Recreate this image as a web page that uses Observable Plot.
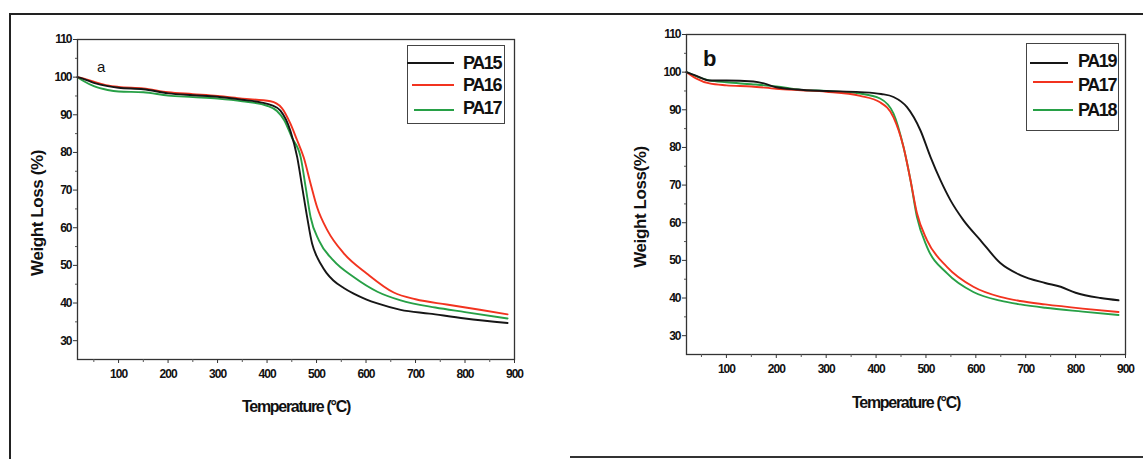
<!DOCTYPE html>
<html><head><meta charset="utf-8">
<script src="https://cdn.jsdelivr.net/npm/d3@7"></script>
<script src="https://cdn.jsdelivr.net/npm/@observablehq/plot@0.6"></script>
<style>
body{margin:0;background:#fff;}
#wrap{position:relative;width:1143px;height:459px;overflow:hidden;font-family:"Liberation Sans",Arial,sans-serif;color:#111;}
.abs{position:absolute;}
.ytitle{position:absolute;font-weight:bold;font-size:17px;white-space:nowrap;transform:translate(-50%,-50%) rotate(-90deg);letter-spacing:-0.4px;}
.xtitle{position:absolute;font-size:16px;font-weight:bold;white-space:nowrap;transform:translate(-50%,-50%);letter-spacing:-1.3px;}
.legend{position:absolute;border:1.5px solid #444;box-sizing:border-box;}
.lg-line{position:absolute;height:2px;}
.lg-text{position:absolute;font-weight:bold;font-size:18px;letter-spacing:-1.4px;line-height:18px;transform:translateY(-50%);}
</style></head>
<body><div id="wrap"></div>
<script>
// ---- Data ----
// Panel a
const tPA15a = [17, 30, 50, 78, 100, 150, 200, 250, 300, 350, 387, 410, 427, 447, 461, 471, 481, 491, 500, 508, 520, 534, 555, 575, 600, 623, 670, 728, 800, 886];
const wPA15a = [100, 99.5, 98.5, 97.6, 97.2, 96.8, 95.7, 95.2, 94.8, 94.0, 93.3, 92.5, 91.1, 85.8, 78.7, 70.8, 62.8, 55.8, 52.5, 50.5, 48.0, 46, 44, 42.5, 41, 39.9, 38.2, 37.2, 35.9, 34.7];
const tPA16a = [17, 30, 50, 78, 100, 150, 200, 250, 300, 350, 407, 430, 447, 460, 474, 488, 501, 522, 555, 602, 656, 700, 763, 830, 886];
const wPA16a = [100, 99.6, 98.8, 97.8, 97.4, 97.0, 96.0, 95.5, 95.0, 94.3, 93.6, 91.8, 87.7, 83.5, 78.7, 71.7, 65.5, 59.3, 53.2, 47.8, 42.8, 41.0, 39.6, 38.2, 37.0];
const tPA17a = [17, 30, 50, 78, 100, 150, 200, 250, 300, 350, 400, 420, 435, 450, 468, 478, 488, 505, 534, 575, 623, 670, 740, 800, 886];
const wPA17a = [100, 98.9, 97.6, 96.6, 96.2, 96.0, 95.1, 94.7, 94.3, 93.6, 92.4, 91, 88.5, 84, 78.7, 70.8, 62.8, 56.6, 51.3, 46.9, 43.0, 40.7, 38.8, 37.6, 35.9];
// Panel b
const tPA19b = [20, 40, 66, 100, 154, 175, 200, 241, 300, 368, 410, 435, 462, 489, 509, 529, 549, 575, 609, 649, 689, 739, 770, 800, 850, 886];
const wPA19b = [100, 99.0, 97.8, 97.8, 97.5, 97.0, 96.0, 95.4, 95.0, 94.7, 94.2, 93.4, 90.7, 84.5, 77.5, 71.3, 66, 60.7, 55.4, 49.3, 46.1, 44, 43, 41.4, 40, 39.4];
const tPA17b = [20, 40, 66, 100, 150, 200, 250, 300, 368, 408, 435, 455, 469, 482, 502, 542, 595, 649, 689, 739, 814, 886];
const wPA17b = [100, 98.3, 97.0, 96.5, 96.2, 95.6, 95.2, 94.8, 93.7, 92, 88, 80.1, 71.3, 62.5, 55.4, 48.3, 43, 40.3, 39.2, 38.3, 37.2, 36.3];
const tPA18b = [20, 40, 66, 100, 150, 200, 250, 300, 368, 408, 435, 455, 469, 482, 502, 542, 595, 649, 689, 739, 814, 886];
const wPA18b = [100, 98.9, 97.8, 97.3, 96.8, 96.2, 95.3, 95.0, 94.3, 93, 89, 80.1, 71.3, 61.5, 53.6, 46.6, 41.6, 39.3, 38.3, 37.4, 36.4, 35.5];

const xTicks = [100, 200, 300, 400, 500, 600, 700, 800, 900];
const xMinor = [50, 150, 250, 350, 450, 550, 650, 750, 850];
const yTicks = [30, 40, 50, 60, 70, 80, 90, 100, 110];
const yMinor = [35, 45, 55, 65, 75, 85, 95, 105];

const COLORS = {black: "#161616", red: "#f2331f", green: "#27a046"};

const panels = [
  {id: "a", left: 0, width: 560, mL: 77, mR: 46, mT: 39, mB: 100, xmin: 17,
   series: [["PA15", tPA15a, wPA15a, COLORS.black], ["PA16", tPA16a, wPA16a, COLORS.red], ["PA17", tPA17a, wPA17a, COLORS.green]]},
  {id: "b", left: 560, width: 583, mL: 126, mR: 18, mT: 34, mB: 105, xmin: 20,
   series: [["PA19", tPA19b, wPA19b, COLORS.black], ["PA17", tPA17b, wPA17b, COLORS.red], ["PA18", tPA18b, wPA18b, COLORS.green]]}
];

const wrap = document.getElementById("wrap");

for (const p of panels) {
  const lines = p.series.map(([name, ts, ws, color]) =>
    Plot.line(ts.map((t, i) => ({t, w: ws[i]})), {x: "t", y: "w", stroke: color, strokeWidth: 1.9, curve: "monotone-x"}));
  const chart = Plot.plot({
    width: p.width, height: 459,
    marginLeft: p.mL, marginRight: p.mR, marginTop: p.mT, marginBottom: p.mB,
    x: {domain: [p.xmin, 900]},
    y: {domain: [25, 110]},
    style: {fontFamily: "'Liberation Sans', Arial, sans-serif", fontSize: "12px", fontWeight: "bold", letterSpacing: "-1px", color: "#111", background: "transparent"},
    marks: [
      ...lines.slice().reverse(),
      Plot.frame({stroke: "#333", strokeWidth: 1.3}),
      Plot.axisY({ticks: yTicks, tickSize: 4, tickPadding: 2, label: null, stroke: "#333"}),
      Plot.axisY({ticks: yMinor, tickSize: 2, tickFormat: () => "", label: null, stroke: "#555"}),
      Plot.axisX({ticks: xTicks, tickSize: 4, tickPadding: 6, label: null, stroke: "#333"}),
      Plot.axisX({ticks: xMinor, tickSize: 3, tickFormat: () => "", label: null, stroke: "#555"})
    ]
  });
  chart.style.position = "absolute";
  chart.style.left = p.left + "px";
  chart.style.top = "0px";
  wrap.appendChild(chart);
}

function addDiv(cls, text, css) {
  const d = document.createElement("div");
  d.className = cls;
  if (text != null) d.textContent = text;
  Object.assign(d.style, css);
  wrap.appendChild(d);
  return d;
}

// Figure border lines
addDiv("abs", null, {left: "9px", top: "13px", width: "1134px", height: "2px", background: "#222"});
addDiv("abs", null, {left: "9px", top: "13px", width: "2px", height: "446px", background: "#222"});
addDiv("abs", null, {left: "570px", top: "456px", width: "573px", height: "2px", background: "#333"});

// Axis titles
addDiv("ytitle", "Weight Loss (%)", {left: "38px", top: "213px"});
addDiv("ytitle", "Weight Loss(%)", {left: "641px", top: "207px"});
addDiv("xtitle", "Temperature (°C)", {left: "296px", top: "407px"});
addDiv("xtitle", "Temperature (°C)", {left: "906px", top: "403px"});

// Panel labels
addDiv("abs", "a", {left: "97px", top: "58px", fontSize: "15px"});
addDiv("abs", "b", {left: "703px", top: "46px", fontSize: "22px", fontWeight: "bold"});

// Legends
const legends = [
  {box: [407, 45, 98, 79], items: [["PA15", COLORS.black, 407, 454, 63, 63], ["PA16", COLORS.red, 412, 454, 85, 85], ["PA17", COLORS.green, 414, 454, 110, 108]], tx: 463},
  {box: [1026, 43, 93, 88], items: [["PA19", COLORS.black, 1030, 1068, 63, 61], ["PA17", COLORS.red, 1033, 1073, 82, 85], ["PA18", COLORS.green, 1033, 1073, 110, 110]], tx: 1078}
];
for (const L of legends) {
  const [bx, by, bw, bh] = L.box;
  addDiv("legend", null, {left: bx + "px", top: by + "px", width: bw + "px", height: bh + "px"});
  for (const [name, color, x0, x1, ly, ty] of L.items) {
    addDiv("lg-line", null, {left: x0 + "px", top: (ly - 1) + "px", width: (x1 - x0) + "px", background: color});
    addDiv("lg-text", name, {left: L.tx + "px", top: ty + "px"});
  }
}
</script>
</body></html>
